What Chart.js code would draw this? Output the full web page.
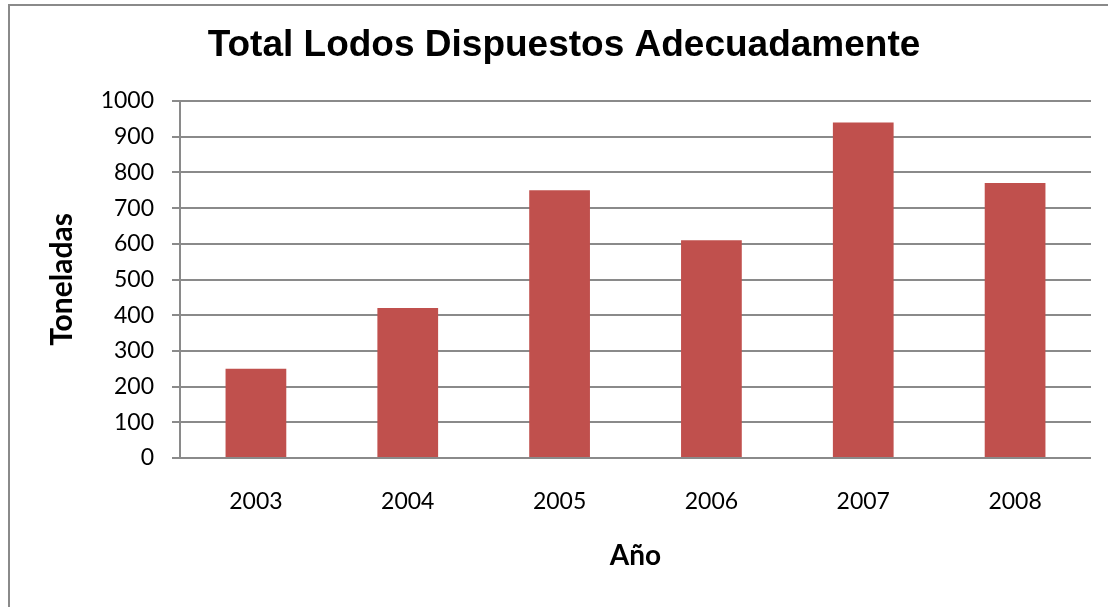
<!DOCTYPE html>
<html>
<head>
<meta charset="utf-8">
<script src="https://cdn.jsdelivr.net/npm/chart.js@4"></script>
<style>
  html, body { margin: 0; padding: 0; background: #fff; }
  body { width: 1108px; height: 607px; overflow: hidden; position: relative; }
  #frame {
    position: absolute; left: 8px; top: 4px; width: 1110px; height: 601px;
    border-left: 2px solid #8a8a8a; border-top: 2px solid #8a8a8a;
    border-bottom: 1px solid #d9d9d9;
  }
  #wrap { position: absolute; left: 0; top: 0; width: 1108px; height: 607px; }
</style>
</head>
<body>
<div id="frame"></div>
<div id="wrap"><canvas id="chart"></canvas></div>
<script>
// Total lodos dispuestos adecuadamente (toneladas por año)
const years = ["2003", "2004", "2005", "2006", "2007", "2008"];
const toneladas = [250, 420, 750, 610, 940, 770];
const yTicks = [0, 100, 200, 300, 400, 500, 600, 700, 800, 900, 1000];

const BAR_COLOR = "#c0504d";
const GRID_COLOR = "#8a8a8a";
const LABEL_FONT = "Lato, 'Open Sans', sans-serif";

Chart.defaults.color = "#000";

new Chart(document.getElementById("chart"), {
  type: "bar",
  data: {
    labels: years,
    datasets: [{
      label: "Toneladas",
      data: toneladas,
      backgroundColor: BAR_COLOR,
      borderWidth: 0,
      categoryPercentage: 1,
      barPercentage: 0.4,
    }],
  },
  options: {
    responsive: true,
    maintainAspectRatio: false,
    animation: false,
    layout: { padding: { left: 37, right: 17, top: 0, bottom: 0 } },
    plugins: {
      legend: { display: false },
      tooltip: { enabled: false },
      title: {
        display: true,
        text: "Total Lodos Dispuestos Adecuadamente",
        color: "#000",
        font: { family: "'Liberation Sans', Arial, sans-serif", size: 37, weight: "bold", lineHeight: 1.2 },
        padding: { top: 24, bottom: 32.6 },
      },
    },
    scales: {
      x: {
        grid: { display: false, drawTicks: false },
        border: { display: false },
        ticks: { padding: 30, font: { family: LABEL_FONT, size: 23 }, color: "#000" },
        title: {
          display: true,
          text: "Año",
          color: "#000",
          font: { family: LABEL_FONT, size: 28, weight: "bold", lineHeight: 1.2 },
          padding: { top: 0, bottom: 34 },
        },
        afterFit: (scale) => { scale.height = 149; },
      },
      y: {
        min: 0,
        max: 1000,
        afterBuildTicks: (scale) => { scale.ticks = yTicks.map((v) => ({ value: v })); },
        grid: { color: GRID_COLOR, lineWidth: 2, tickLength: 8, drawTicks: true },
        border: { display: true, color: GRID_COLOR, width: 2 },
        ticks: {
          padding: 18,
          font: { family: LABEL_FONT, size: 23 },
          color: "#000",
          callback: (v) => String(v),
        },
        title: {
          display: true,
          text: "Toneladas",
          color: "#000",
          font: { family: LABEL_FONT, size: 30, weight: "bold", lineHeight: 1.2 },
          padding: { top: 7, bottom: 0 },
        },
        afterFit: (scale) => { scale.width = 143; },
      },
    },
  },
});
</script>
</body>
</html>
